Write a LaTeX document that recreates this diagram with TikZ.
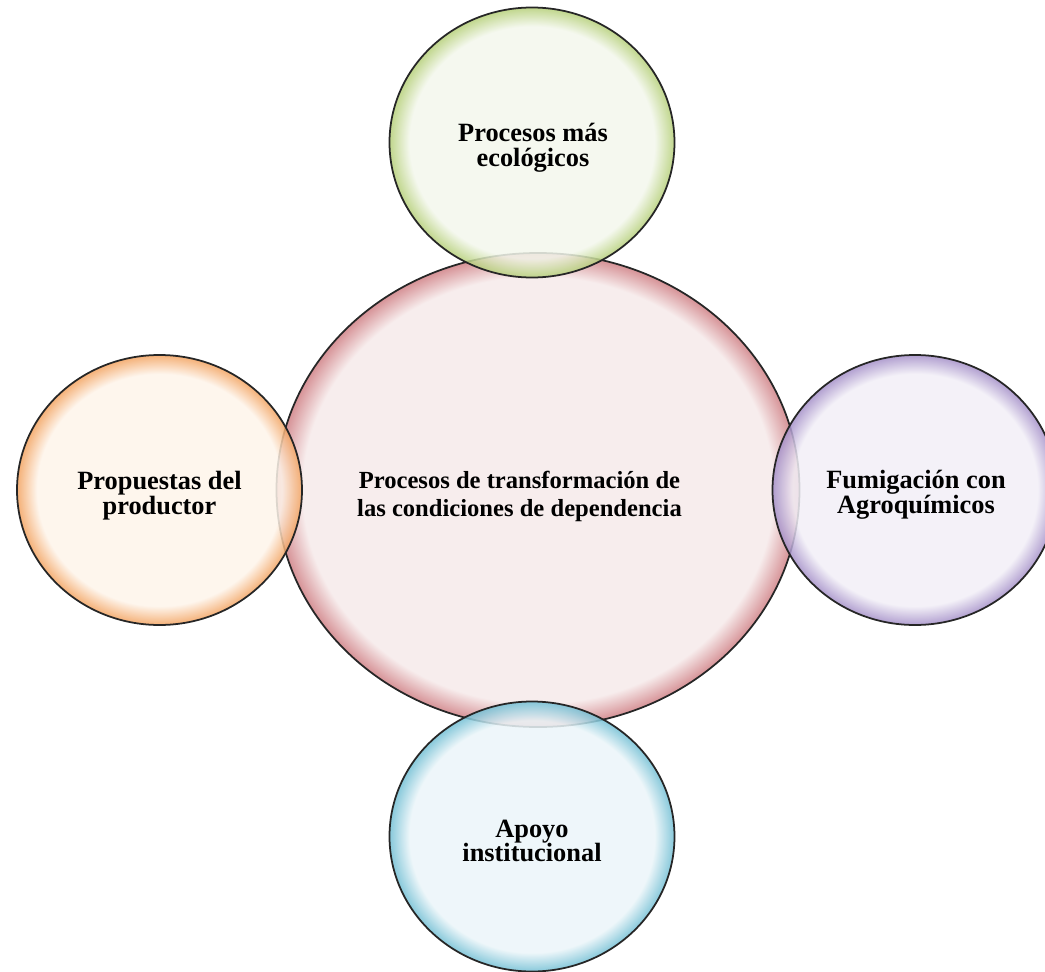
\documentclass[tikz,border=0pt]{standalone}
\usepackage{fontspec}
\setmainfont{Liberation Serif}
\usepackage{xcolor}
\usepackage{tikz}
\usetikzlibrary{shapes.geometric}

\definecolor{pinkin}{HTML}{F6EAEA}
\definecolor{pinkout}{HTML}{CF7F84}
\definecolor{greenin}{HTML}{F3F7EC}
\definecolor{greenout}{HTML}{B5CF78}
\definecolor{orangein}{HTML}{FEF4EA}
\definecolor{orangeout}{HTML}{F3A360}
\definecolor{purplein}{HTML}{F2EFF7}
\definecolor{purpleout}{HTML}{A48FC8}
\definecolor{bluein}{HTML}{EBF5F9}
\definecolor{blueout}{HTML}{72BFD4}

\pgfdeclareradialshading{pinkrim}{\pgfpoint{0bp}{0bp}}{color(0bp)=(pinkin); color(22.5bp)=(pinkin); color(25bp)=(pinkout); color(50bp)=(pinkout)}
\pgfdeclareradialshading{greenrim}{\pgfpoint{0bp}{0bp}}{color(0bp)=(greenin); color(21.5bp)=(greenin); color(25bp)=(greenout); color(50bp)=(greenout)}
\pgfdeclareradialshading{orangerim}{\pgfpoint{0bp}{0bp}}{color(0bp)=(orangein); color(21.5bp)=(orangein); color(25bp)=(orangeout); color(50bp)=(orangeout)}
\pgfdeclareradialshading{purplerim}{\pgfpoint{0bp}{0bp}}{color(0bp)=(purplein); color(21.5bp)=(purplein); color(25bp)=(purpleout); color(50bp)=(purpleout)}
\pgfdeclareradialshading{bluerim}{\pgfpoint{0bp}{0bp}}{color(0bp)=(bluein); color(21.5bp)=(bluein); color(25bp)=(blueout); color(50bp)=(blueout)}

\tikzset{
    ball/.style={ellipse, draw=black!85, line width=1pt, shade, fill opacity=0.85,
        inner sep=0pt},
    hub/.style={ball, minimum width=10.46cm, minimum height=9.48cm},
    satellite/.style={ball, minimum width=5.70cm, minimum height=5.40cm},
    hubtext/.style={align=center, font=\bfseries\fontsize{14}{16}\selectfont},
    sattext/.style={align=center, font=\bfseries\fontsize{15}{14}\selectfont},
}

\begin{document}
\begin{tikzpicture}
        \useasboundingbox (-10.76,-9.62) rectangle (10.14,9.80);
        \node (hub) [hub, shading=pinkrim] at (0,0) {};
        \node (top) [satellite, shading=greenrim] at (-0.12,6.95) {};
        \node (left) [satellite, shading=orangerim] at (-7.57,0) {};
        \node (right) [satellite, shading=purplerim] at (7.54,0) {};
        \node (bottom) [satellite, shading=bluerim] at (-0.12,-6.93) {};
        \node (hublabel) [hubtext] at (-0.37,-0.13)
            {Procesos de transformación de\\las condiciones de dependencia};
        \node (toplabel) [sattext] at (-0.10,6.84) {Procesos más\\ecológicos};
        \node (leftlabel) [sattext] at (-7.57,-0.11) {Propuestas del\\productor};
        \node (rightlabel) [sattext] at (7.56,-0.10) {Fumigación con\\Agroquímicos};
        \node (bottomlabel) [sattext] at (-0.12,-7.02) {Apoyo\\institucional};
    \end{tikzpicture}
\end{document}
